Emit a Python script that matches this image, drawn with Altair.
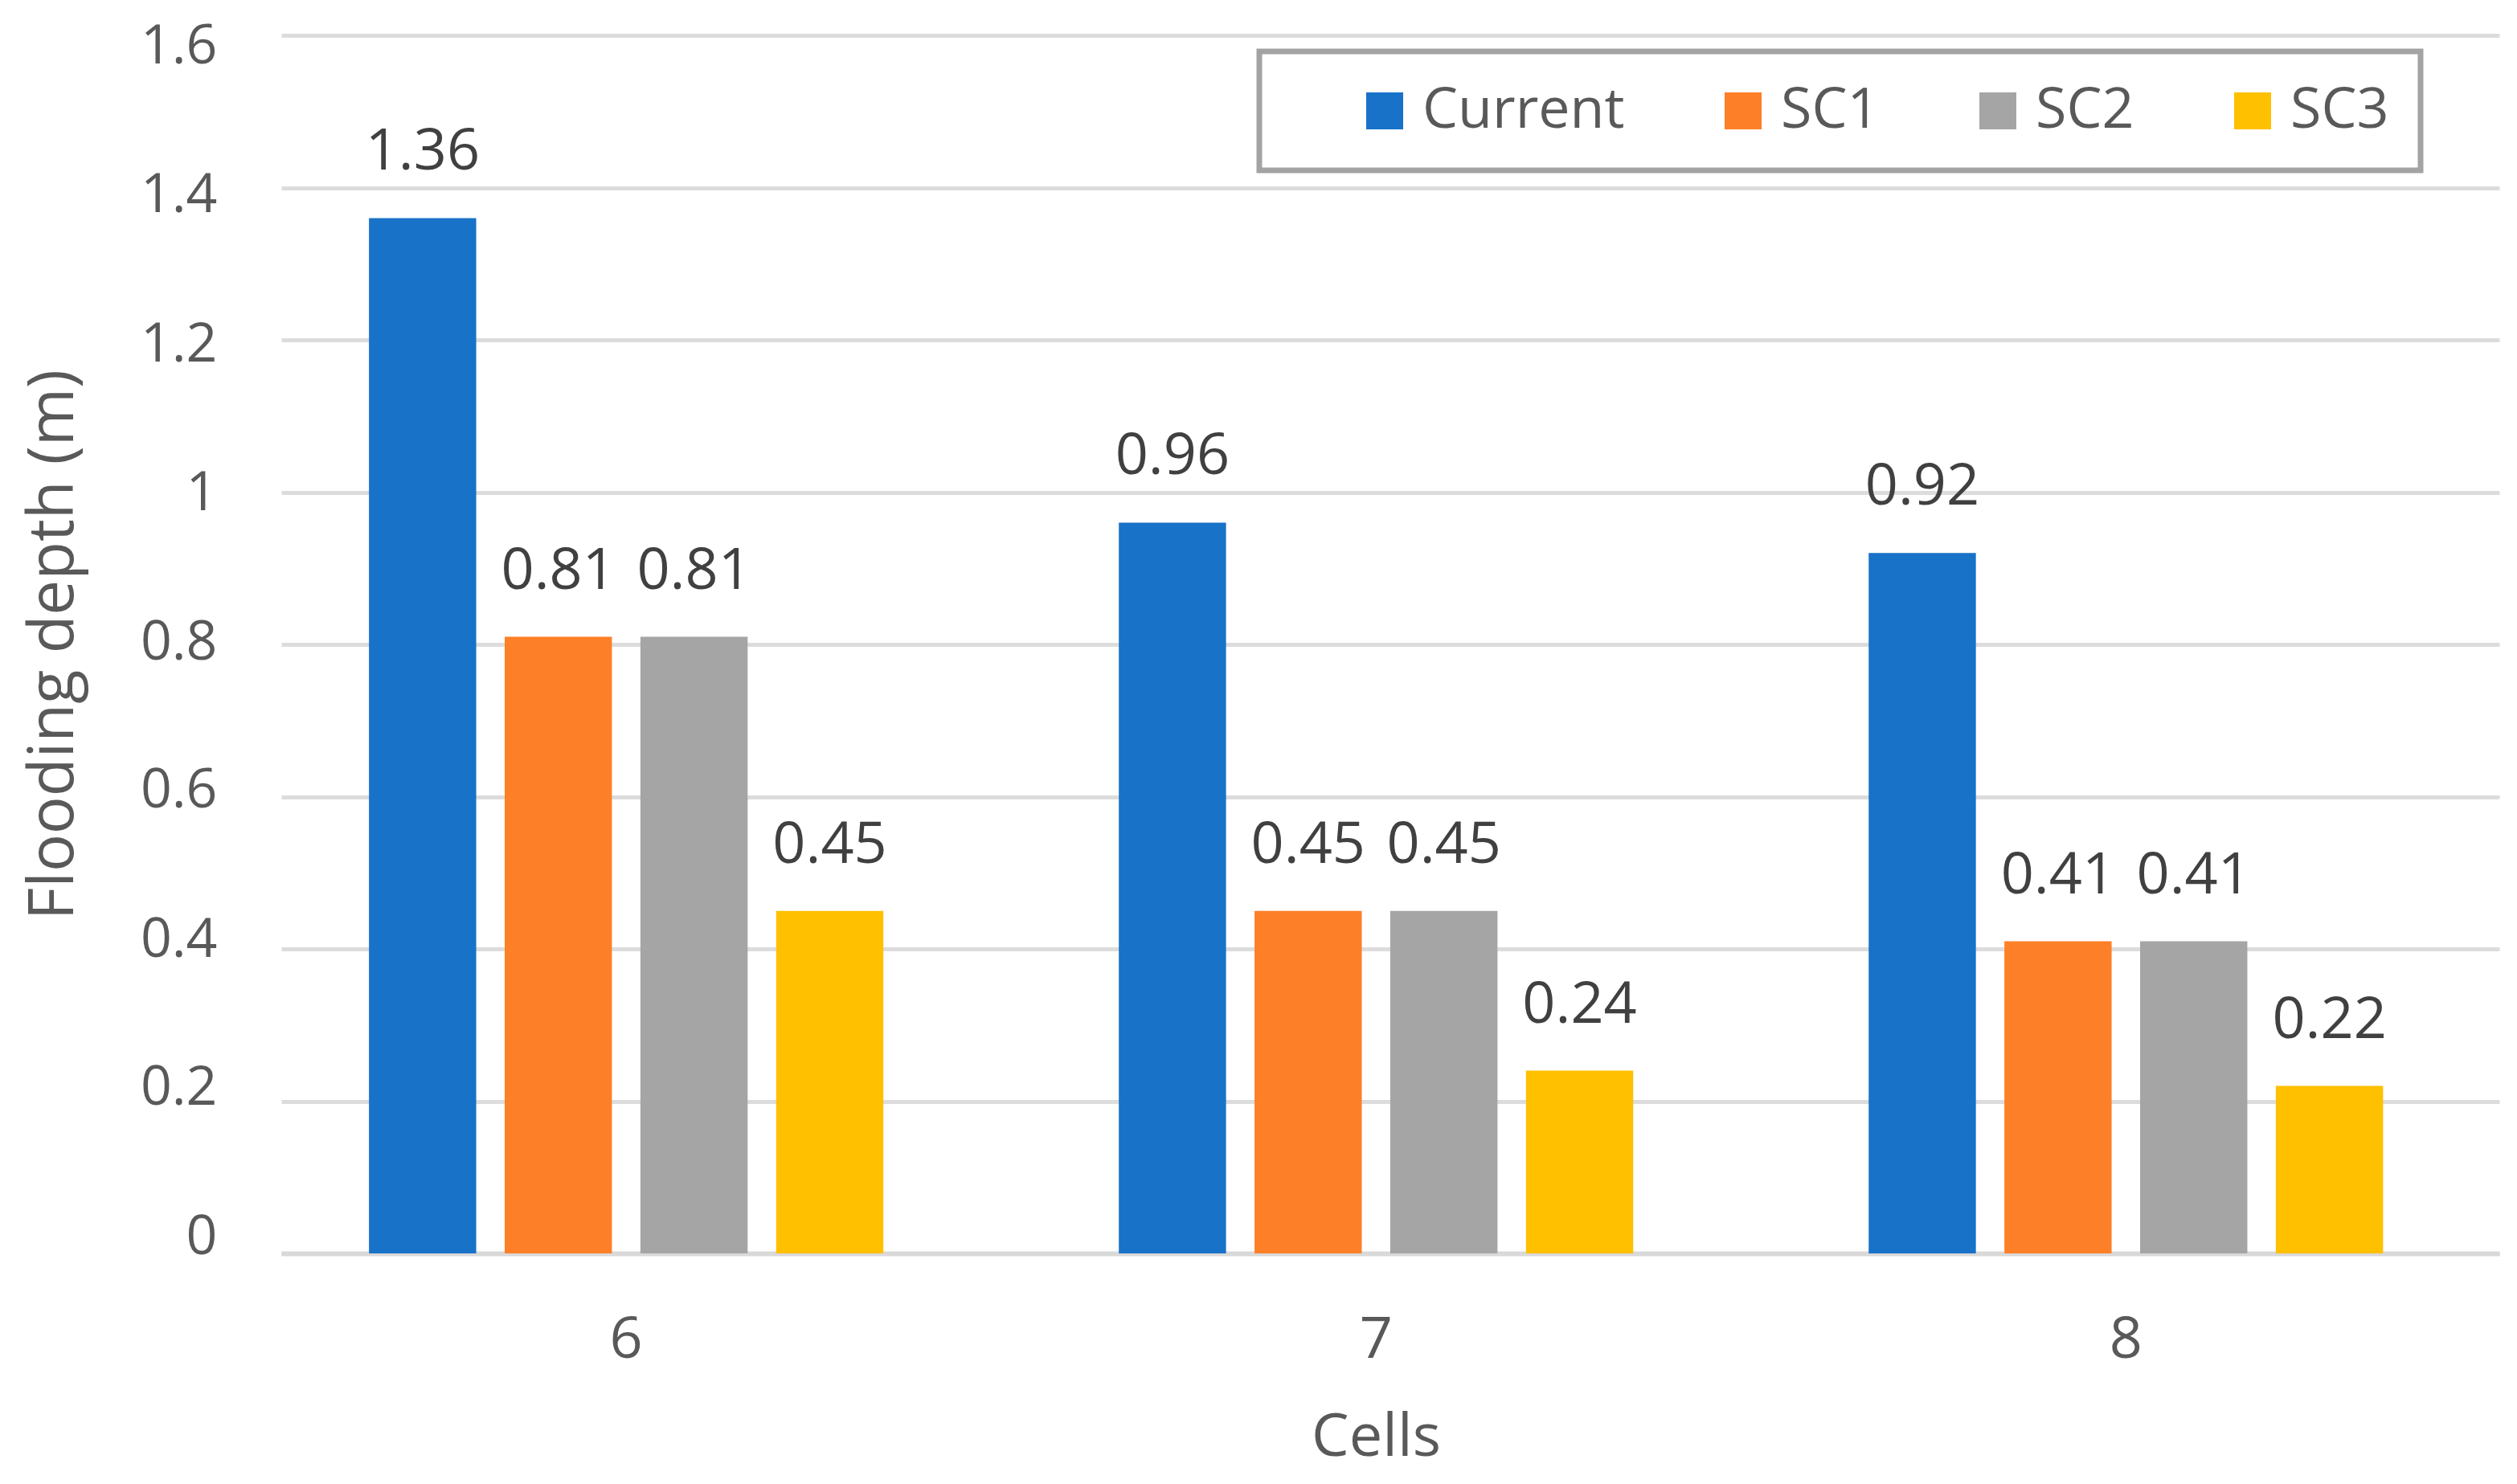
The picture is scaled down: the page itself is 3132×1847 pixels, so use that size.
import altair as alt
import pandas as pd

cells = ["6", "7", "8"]
scenarios = ["Current", "SC1", "SC2", "SC3"]
current = [1.36, 0.96, 0.92]
sc1 = [0.81, 0.45, 0.41]
sc2 = [0.81, 0.45, 0.41]
sc3 = [0.45, 0.24, 0.22]
colors = ["#1872C8", "#FD7F27", "#A5A5A5", "#FFC000"]
y_ticks = [0, 0.2, 0.4, 0.6, 0.8, 1.0, 1.2, 1.4, 1.6]

rows = []
for i, c in enumerate(cells):
    for s, vals in zip(scenarios, [current, sc1, sc2, sc3]):
        rows.append({"Cell": c, "Scenario": s, "Depth": vals[i]})
df = pd.DataFrame(rows)

FONT = "Open Sans"

# small vertical nudges of the y tick labels (they sit slightly off the gridlines in the original)
y_label_offset = {
    "condition": [
        {"test": "datum.value > 1.5", "value": 14},
        {"test": "datum.value > 1.3", "value": 10},
        {"test": "datum.value > 1.1", "value": 6},
        {"test": "datum.value > 0.9", "value": 2},
        {"test": "datum.value > 0.7", "value": -2},
        {"test": "datum.value > 0.5", "value": -7},
        {"test": "datum.value > 0.3", "value": -11},
        {"test": "datum.value > 0.1", "value": -16},
    ],
    "value": -20,
}

base = alt.Chart(df).encode(
    x=alt.X(
        "Cell:N",
        sort=cells,
        scale=alt.Scale(paddingInner=0.314, paddingOuter=0.136, align=0.43),
        axis=alt.Axis(
            title="Cells",
            titleX=1362,
            labelAngle=0,
            domain=True,
            domainColor="#d9d9d9",
            domainWidth=6,
            ticks=False,
            grid=False,
            labelPadding=72,
            labelFontSize=72,
            labelColor="#595959",
            labelFont=FONT,
            titleFontSize=74,
            titleFont=FONT,
            titleColor="#595959",
            titleFontWeight="normal",
            titlePadding=50,
        ),
    ),
    xOffset=alt.XOffset(
        "Scenario:N",
        sort=scenarios,
        scale=alt.Scale(paddingInner=0.21, paddingOuter=0),
    ),
    y=alt.Y(
        "Depth:Q",
        scale=alt.Scale(domain=[0, 1.6], nice=False),
        axis=alt.Axis(
            title="Flooding depth (m)",
            values=y_ticks,
            format="~g",
            domain=False,
            ticks=False,
            grid=True,
            gridColor="#dcdcdc",
            gridWidth=5,
            labelPadding=80,
            labelFontSize=68,
            labelColor="#595959",
            labelFont=FONT,
            labelOffset=y_label_offset,
            titleFontSize=78,
            titleFont=FONT,
            titleColor="#595959",
            titleFontWeight="normal",
            titlePadding=68,
        ),
    ),
)

bars = base.mark_bar().encode(
    color=alt.Color(
        "Scenario:N",
        sort=scenarios,
        scale=alt.Scale(domain=scenarios, range=colors),
        legend=alt.Legend(
            title=" ",
            titleOrient="left",
            titleFontSize=8,
            titlePadding=82,
            orient="none",
            legendX=1217,
            legendY=20,
            direction="horizontal",
            symbolType="square",
            symbolSize=2116,
            symbolStrokeWidth=0,
            labelFontSize=70,
            labelFont=FONT,
            labelColor="#595959",
            labelLimit=600,
            labelOffset=12,
            columnPadding=112,
            padding=39,
            strokeColor="#a3a3a3",
            fillColor="white",
        ),
    )
)

labels = base.mark_text(
    baseline="alphabetic", dy=-60, fontSize=72, color="#404040", font=FONT
).encode(text=alt.Text("Depth:Q", format=".2f"))

chart = (
    (bars + labels)
    .properties(
        width=2760,
        height=1516,
        autosize=alt.AutoSizeParams(type="none"),
        padding={"left": 342, "top": 36, "right": 14, "bottom": 279},
        background="white",
    )
    .configure_view(stroke=None)
    .configure_legend(strokeWidth=7)
)

chart.save("out.html", embed_options={"renderer": "svg", "actions": False})
